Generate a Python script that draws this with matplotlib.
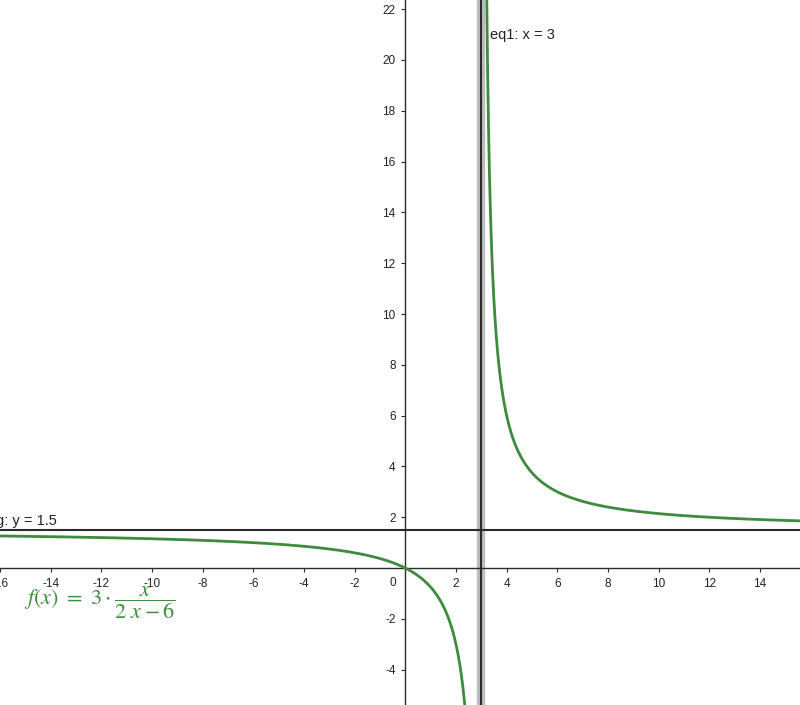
import numpy as np
import matplotlib.pyplot as plt

plt.rcParams["font.family"] = ["Liberation Sans", "DejaVu Sans"]
plt.rcParams["mathtext.fontset"] = "stix"

# function f(x) = 3 * x / (2x - 6) and its asymptotes
coef = 3.0
den_a, den_b = 2.0, -6.0
v_asym = 3.0          # eq1: x = 3
h_asym = 1.5          # g: y = 1.5

x_ticks = [-16, -14, -12, -10, -8, -6, -4, -2, 2, 4, 6, 8, 10, 12, 14]
y_ticks = [-4, -2, 2, 4, 6, 8, 10, 12, 14, 16, 18, 20, 22]

XMIN, XMAX = -15.97, 15.58
YMIN, YMAX = -5.39, 22.36

GREEN = "#3d8b3d"
AXIS = "#2b2b2b"


def f(x):
    return coef * x / (den_a * x + den_b)


fig = plt.figure(figsize=(8.0, 7.05), dpi=100)
ax = fig.add_axes([0, 0, 1, 1])
ax.set_xlim(XMIN, XMAX)
ax.set_ylim(YMIN, YMAX)

for s in ("top", "right"):
    ax.spines[s].set_visible(False)
for s in ("left", "bottom"):
    ax.spines[s].set_position(("data", 0))
    ax.spines[s].set_color(AXIS)
    ax.spines[s].set_linewidth(1.0)

ax.set_xticks(x_ticks)
ax.set_yticks(y_ticks)
ax.set_xticklabels([str(t) for t in x_ticks])
ax.set_yticklabels([str(t) for t in y_ticks])
ax.tick_params(axis="both", direction="out", length=3, width=0.8,
               color=AXIS, labelsize=8.5, labelcolor="#222222", pad=4)
ax.text(-0.35, -0.35, "0", ha="right", va="top", fontsize=8.5, color="#222222")

# asymptotes
ax.axvline(v_asym, color="#bdbdbd", lw=6, zorder=2)
ax.axvline(v_asym, color=AXIS, lw=1.5, zorder=3)
ax.axhline(h_asym, color=AXIS, lw=1.5, zorder=3)

# curve branches
xl = np.linspace(XMIN, v_asym - 0.02, 2000)
xr = np.linspace(v_asym + 0.02, XMAX, 2000)
ax.plot(xl, f(xl), color=GREEN, lw=2, zorder=4)
ax.plot(xr, f(xr), color=GREEN, lw=2, zorder=4)

ax.text(v_asym + 0.35, 21.0, "eq1: x = 3", fontsize=10.5, color="#222222",
        ha="left", va="center")
ax.text(-16.15, 1.85, "g: y = 1.5", fontsize=10.5, color="#222222",
        ha="left", va="center")

ax.text(-15.05, -1.35, r"$f(x)\ =\ 3\cdot\dfrac{x}{2\ x-6}$", fontsize=16,
        color=GREEN, ha="left", va="center")

fig.savefig("out.png", dpi=100)
